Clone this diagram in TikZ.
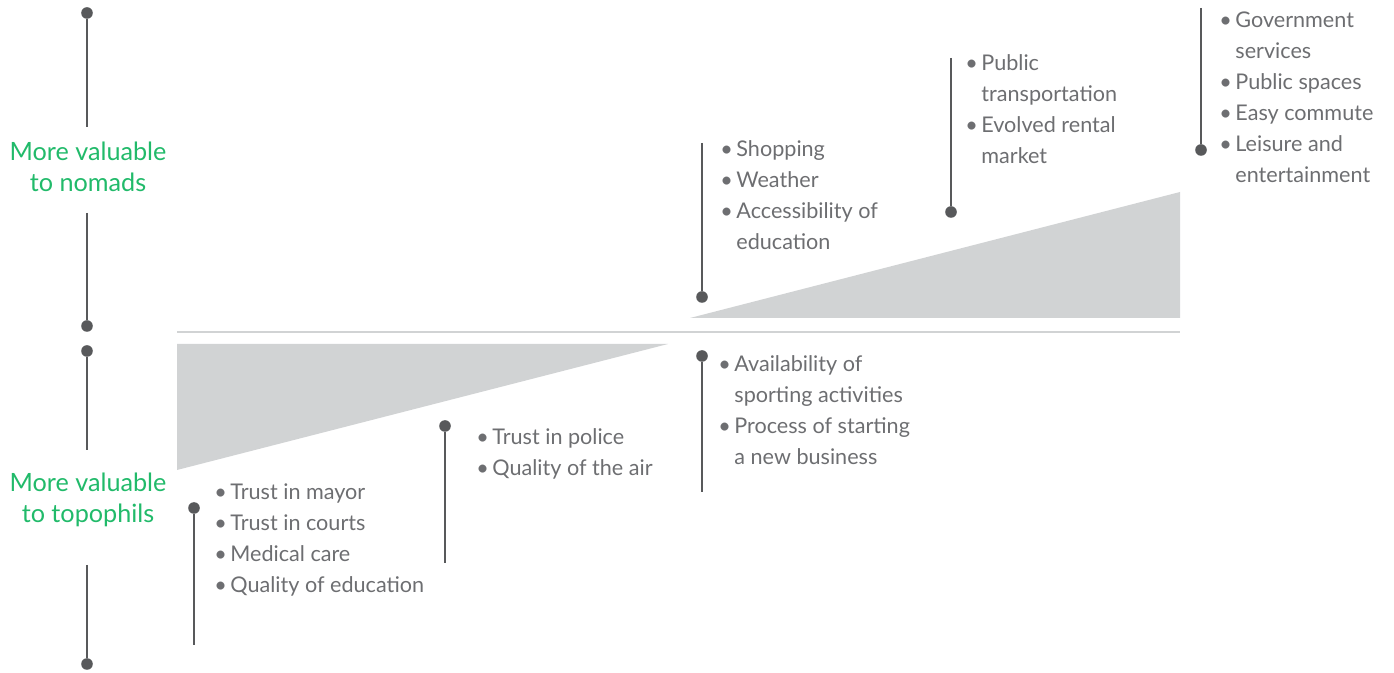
\documentclass[tikz,border=0pt]{standalone}
\usepackage{fontspec}
\setmainfont{Lato}
\usetikzlibrary{positioning}
\definecolor{txtgray}{HTML}{6D6E71}
\definecolor{pingray}{HTML}{58595B}
\definecolor{wedgegray}{HTML}{D1D3D4}
\definecolor{valgreen}{HTML}{21BA6A}
\newcommand\bul{\makebox[8pt][l]{\textbullet}}
\newcommand\cont{\hspace*{8pt}}
\tikzset{
    pindot/.style={circle,fill=pingray,inner sep=0pt,minimum size=5.8pt},
    pinline/.style={draw=pingray,line width=1pt},
    % anchored at the baseline of the last line
    itemtext/.style={anchor=base west,inner sep=0pt,align=left,text=txtgray,font=\fontsize{10.8}{15.5}\selectfont},
    sidelabel/.style={align=center,text=valgreen,font=\fontsize{12.6}{15.5}\selectfont},
    wedge/.style={fill=wedgegray,draw=none},
}

\begin{document}
\begin{tikzpicture}[x=0.5pt,y=-0.5pt]
\useasboundingbox (0,0) rectangle (1394,673);

% side axis
\node[pindot] (axtop) at (87,13) {};
\node[pindot] (axmidA) at (87,326) {};
\node[pindot] (axmidB) at (87,351) {};
\node[pindot] (axbot) at (87,664) {};
\node[sidelabel] (nomads) at (88,167) {More valuable\\to nomads};
\node[sidelabel] (topophils) at (88,500) {More valuable\\to topophils};
\coordinate (n1) at (87,127);
\coordinate (n2) at (87,213);
\coordinate (t1) at (87,450);
\coordinate (t2) at (87,565);
\draw[pinline] (axtop) -- (n1);
\draw[pinline] (n2) -- (axmidA);
\draw[pinline] (axmidB) -- (t1);
\draw[pinline] (t2) -- (axbot);

% wedges and baseline
\draw[wedge] (690,318) -- (1180,192) -- (1180,318) -- cycle;
\draw[wedge] (177,344) -- (668,344) -- (177,470) -- cycle;
\draw[wedgegray,line width=0.8pt] (177,332) -- (1180,332);

% upper pins
\node[pindot] (shopdot) at (702,297) {};
\coordinate (shoptop) at (702,143);
\draw[pinline] (shoptop) -- (shopdot);
\node[itemtext] (shop) at (720,250) {\bul Shopping\\\bul Weather\\\bul Accessibility of\\\cont education};

\node[pindot] (transdot) at (951,212) {};
\coordinate (transtop) at (951,58);
\draw[pinline] (transtop) -- (transdot);
\node[itemtext] (trans) at (965,164) {\bul Public\\\cont transportation\\\bul Evolved rental\\\cont market};

\node[pindot] (govdot) at (1201,150) {};
\coordinate (govtop) at (1201,8);
\draw[pinline] (govtop) -- (govdot);
\node[itemtext] (gov) at (1219,183) {\bul Government\\\cont services\\\bul Public spaces\\\bul Easy commute\\\bul Leisure and\\\cont entertainment};

% lower pins
\node[pindot] (sportdot) at (702,356) {};
\coordinate (sportbot) at (702,492);
\draw[pinline] (sportdot) -- (sportbot);
\node[itemtext] (sport) at (718,465) {\bul Availability of\\\cont sporting activities\\\bul Process of starting\\\cont a new business};

\node[pindot] (policedot) at (445,426) {};
\coordinate (policebot) at (445,563);
\draw[pinline] (policedot) -- (policebot);
\node[itemtext] (police) at (476,476) {\bul Trust in police\\\bul Quality of the air};

\node[pindot] (mayordot) at (194,508) {};
\coordinate (mayorbot) at (194,645);
\draw[pinline] (mayordot) -- (mayorbot);
\node[itemtext] (mayor) at (214,593) {\bul Trust in mayor\\\bul Trust in courts\\\bul Medical care\\\bul Quality of education};
\end{tikzpicture}
\end{document}
